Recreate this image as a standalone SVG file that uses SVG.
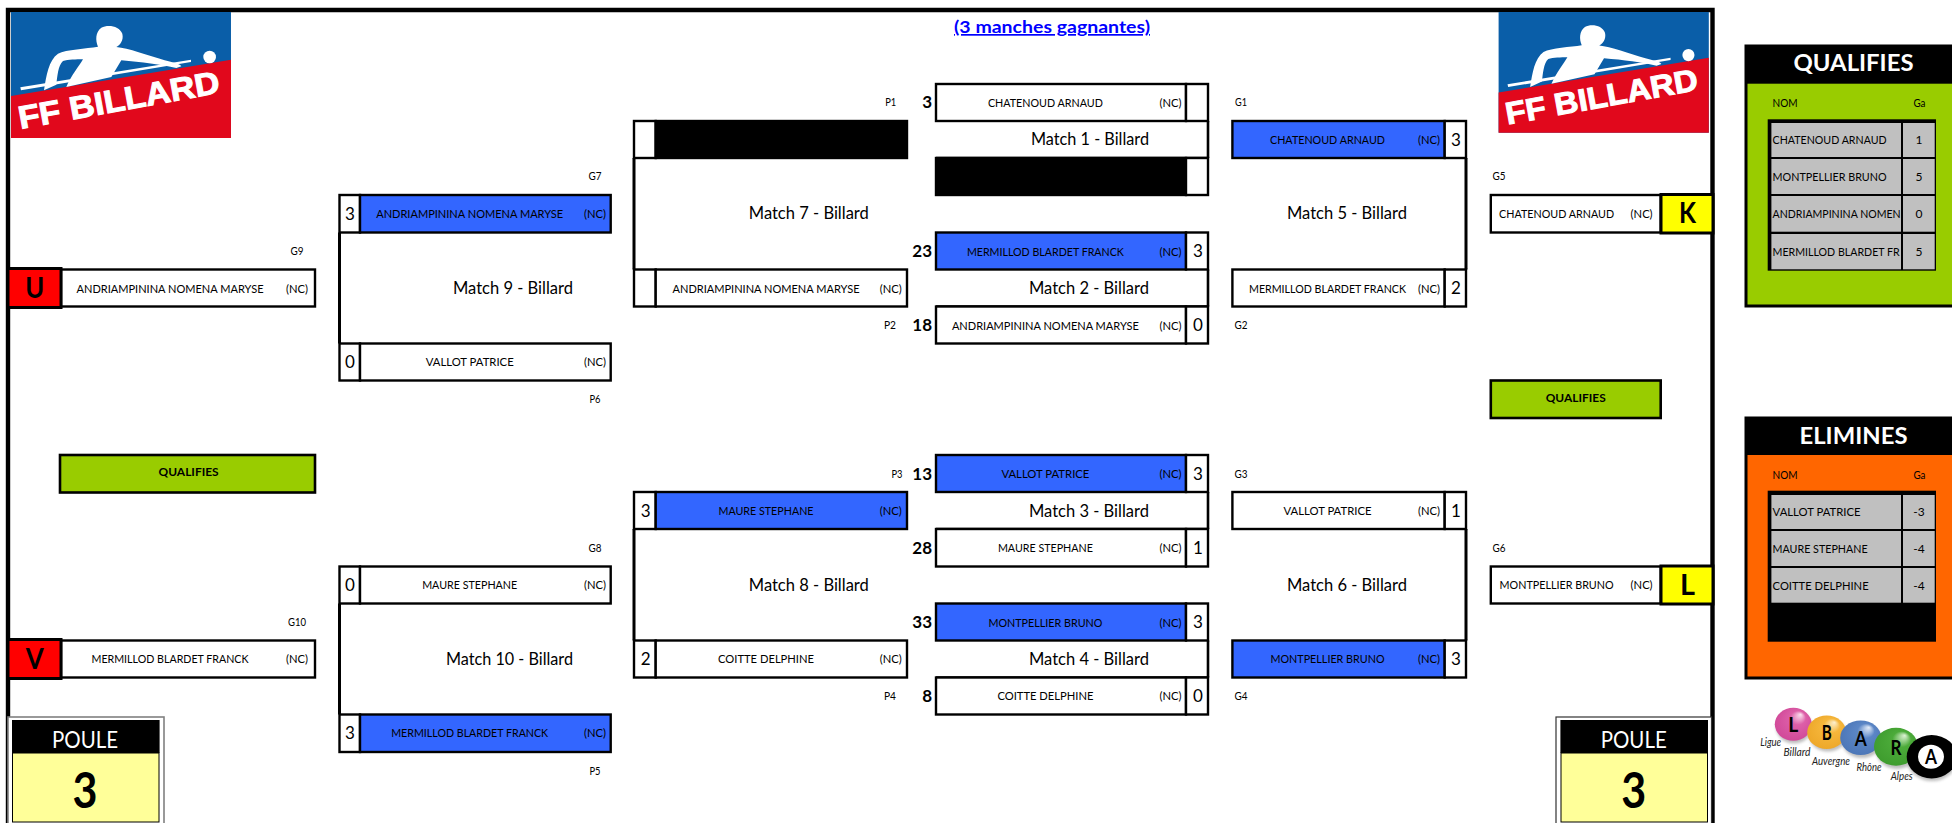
<svg xmlns="http://www.w3.org/2000/svg" width="1952" height="823" viewBox="0 0 1952 823">
<style>
text{font-family:Lato,"Noto Sans",sans-serif;fill:#000}
.c{text-anchor:middle}
.e{text-anchor:end}
.n{font-size:12px}
.s{font-size:17px}
.sb{font-size:17px;font-weight:700;text-anchor:end}
.t{font-size:11.5px;text-anchor:middle}
.m{font-size:17px;text-anchor:end}
.big{font-size:28px;font-weight:700;text-anchor:middle}
.q{font-size:12px;font-weight:700;text-anchor:middle}
.h{font-size:22px;font-weight:700;text-anchor:middle;fill:#fff}
.po{font-size:23px;text-anchor:middle;fill:#fff}
.no{font-size:50px;font-weight:700;text-anchor:middle}
.lb{font-size:10.5px;font-style:italic;text-anchor:middle;fill:#222}
.ba{font-size:21px;font-weight:700;text-anchor:middle}
.lt{fill:#fff;stroke:#fff;stroke-width:1;font-family:"Liberation Sans",sans-serif;font-weight:700}
.w{fill:#fff;stroke:#000;stroke-width:2.4}
.b{fill:#3366ff;stroke:#000;stroke-width:2.4}
.k{fill:#000;stroke:#000;stroke-width:2.4}
.g{fill:#99cc00;stroke:#000;stroke-width:2.6}
.gr{fill:#c0c0c0}
.ln{stroke:#000;stroke-width:2.6;fill:none}
</style>
<defs>
<g id="logo">
<rect width="660" height="378" fill="#0a5ea8"/>
<polygon points="0,252 660,143 660,378 0,378" fill="#e1081c"/>
<polygon points="28,226 540,143 540,150 30,235" fill="#fff"/>
<path d="M99,235C106,190 113,145 141,125C166,112 226,110 261,104C253,85 253,60 271,47C291,36 326,42 334,65C339,85 326,100 316,105C351,108 411,130 461,145C486,152 506,155 511,163L496,168C451,158 391,150 331,145L301,195L166,225C181,190 206,160 216,142C196,142 171,143 156,147C141,160 139,195 136,218Z" fill="#fff"/>
<circle cx="596" cy="135" r="19" fill="#fff"/>
</g>
<radialGradient id="gp" cx=".5" cy=".5" r=".6" fx=".7" fy=".2"><stop offset="0" stop-color="#fbe3f0"/><stop offset=".35" stop-color="#dd5fa8"/><stop offset="1" stop-color="#cf4596"/></radialGradient>
<radialGradient id="go" cx=".5" cy=".5" r=".6" fx=".7" fy=".2"><stop offset="0" stop-color="#fdf0cf"/><stop offset=".35" stop-color="#f6b73c"/><stop offset="1" stop-color="#eca526"/></radialGradient>
<radialGradient id="gb" cx=".5" cy=".5" r=".6" fx=".7" fy=".2"><stop offset="0" stop-color="#e6eefa"/><stop offset=".35" stop-color="#5b86c6"/><stop offset="1" stop-color="#4a74b5"/></radialGradient>
<radialGradient id="gg" cx=".5" cy=".5" r=".6" fx=".7" fy=".2"><stop offset="0" stop-color="#dff3d6"/><stop offset=".35" stop-color="#4cab3a"/><stop offset="1" stop-color="#3c9a2c"/></radialGradient>
<filter id="bl" x="-20%" y="-20%" width="140%" height="140%"><feGaussianBlur stdDeviation="1.5"/></filter>
</defs>
<rect width="1952" height="823" fill="#fff"/>
<g id="frame"><path d="M8 823V10H1712.5V823" fill="none" stroke="#000" stroke-width="4.4"/></g>
<g id="logo-left"><use href="#logo" transform="translate(11 12) scale(.3333)"/><text class="lt" transform="translate(20.5 129) rotate(-10.3)" font-size="32" textLength="204" lengthAdjust="spacingAndGlyphs">FF BILLARD</text></g>
<g id="logo-right"><use href="#logo" transform="translate(1498.6 12) scale(.3185 .3193)"/><text class="lt" transform="translate(1507.5 124.5) rotate(-10.3)" font-size="31" textLength="195" lengthAdjust="spacingAndGlyphs">FF BILLARD</text></g>
<g id="title"><text x="1052" y="33" class="c" font-size="17" font-weight="700" style="fill:#0000ff;text-decoration:underline" textLength="196" lengthAdjust="spacingAndGlyphs">(3 manches gagnantes)</text></g>
<g id="connectors">
<path class="ln" d="M1208 121V158M1208 269.5V306.5M1208 492V529M1208 640.5V677.5"/>
<path class="ln" d="M936 158H1208M936 306.5H1208M936 529H1208M936 677.5H1208"/>
<path class="ln" d="M634 158V269.5M634 529V640.5M1466 158V269.5M1466 529V640.5M339.5 232.5V343.5M339.5 603.5V714.5" style="stroke-width:3"/>
</g>
<g id="m1a"><rect class="w" x="936" y="84" width="250" height="37"/><rect class="w" x="1186" y="84" width="22" height="37"/><text class="n c" x="1045.4" y="107" textLength="115" lengthAdjust="spacingAndGlyphs">CHATENOUD ARNAUD</text><text class="n c" x="1170.6" y="107" textLength="22" lengthAdjust="spacingAndGlyphs">(NC)</text><text class="sb" x="932" y="108">3</text><text class="t" x="890.7" y="106" textLength="11" lengthAdjust="spacingAndGlyphs">P1</text><text class="t" x="1241" y="106" textLength="12" lengthAdjust="spacingAndGlyphs">G1</text></g>
<g id="m1l"><text class="m" x="1149" y="145" textLength="118" lengthAdjust="spacingAndGlyphs">Match 1 - Billard</text></g>
<g id="m1b"><rect class="k" x="936" y="158" width="250" height="37"/><rect class="w" x="1186" y="158" width="22" height="37"/></g>
<g id="m2a"><rect class="b" x="936" y="232.5" width="250" height="37"/><rect class="w" x="1186" y="232.5" width="22" height="37"/><text class="n c" x="1045.4" y="255.5" textLength="157" lengthAdjust="spacingAndGlyphs">MERMILLOD BLARDET FRANCK</text><text class="n c" x="1170.6" y="255.5" textLength="22" lengthAdjust="spacingAndGlyphs">(NC)</text><text class="s c" x="1198" y="257">3</text><text class="sb" x="932" y="257">23</text></g>
<g id="m2l"><text class="m" x="1149" y="294" textLength="120" lengthAdjust="spacingAndGlyphs">Match 2 - Billard</text></g>
<g id="m2b"><rect class="w" x="936" y="306.5" width="250" height="37"/><rect class="w" x="1186" y="306.5" width="22" height="37"/><text class="n c" x="1045.4" y="329.5" textLength="187" lengthAdjust="spacingAndGlyphs">ANDRIAMPININA NOMENA MARYSE</text><text class="n c" x="1170.6" y="329.5" textLength="22" lengthAdjust="spacingAndGlyphs">(NC)</text><text class="s c" x="1198" y="331">0</text><text class="sb" x="932" y="331">18</text><text class="t" x="890" y="329" textLength="12" lengthAdjust="spacingAndGlyphs">P2</text><text class="t" x="1241" y="329" textLength="13" lengthAdjust="spacingAndGlyphs">G2</text></g>
<g id="m3a"><rect class="b" x="936" y="455" width="250" height="37"/><rect class="w" x="1186" y="455" width="22" height="37"/><text class="n c" x="1045.4" y="477.5" textLength="88" lengthAdjust="spacingAndGlyphs">VALLOT PATRICE</text><text class="n c" x="1170.6" y="477.5" textLength="22" lengthAdjust="spacingAndGlyphs">(NC)</text><text class="s c" x="1198" y="479.5">3</text><text class="sb" x="932" y="479.5">13</text><text class="t" x="897" y="478" textLength="11" lengthAdjust="spacingAndGlyphs">P3</text><text class="t" x="1241" y="478" textLength="13" lengthAdjust="spacingAndGlyphs">G3</text></g>
<g id="m3l"><text class="m" x="1149" y="516.5" textLength="120" lengthAdjust="spacingAndGlyphs">Match 3 - Billard</text></g>
<g id="m3b"><rect class="w" x="936" y="529" width="250" height="37.5"/><rect class="w" x="1186" y="529" width="22" height="37.5"/><text class="n c" x="1045.4" y="552" textLength="95" lengthAdjust="spacingAndGlyphs">MAURE STEPHANE</text><text class="n c" x="1170.6" y="552" textLength="22" lengthAdjust="spacingAndGlyphs">(NC)</text><text class="s c" x="1198" y="554">1</text><text class="sb" x="932" y="554">28</text></g>
<g id="m4a"><rect class="b" x="936" y="603.5" width="250" height="37"/><rect class="w" x="1186" y="603.5" width="22" height="37"/><text class="n c" x="1045.4" y="626.5" textLength="114" lengthAdjust="spacingAndGlyphs">MONTPELLIER BRUNO</text><text class="n c" x="1170.6" y="626.5" textLength="22" lengthAdjust="spacingAndGlyphs">(NC)</text><text class="s c" x="1198" y="628">3</text><text class="sb" x="932" y="628">33</text></g>
<g id="m4l"><text class="m" x="1149" y="665" textLength="120" lengthAdjust="spacingAndGlyphs">Match 4 - Billard</text></g>
<g id="m4b"><rect class="w" x="936" y="677.5" width="250" height="37"/><rect class="w" x="1186" y="677.5" width="22" height="37"/><text class="n c" x="1045.4" y="700" textLength="96" lengthAdjust="spacingAndGlyphs">COITTE DELPHINE</text><text class="n c" x="1170.6" y="700" textLength="22" lengthAdjust="spacingAndGlyphs">(NC)</text><text class="s c" x="1198" y="702">0</text><text class="sb" x="932" y="702">8</text><text class="t" x="890" y="700" textLength="12" lengthAdjust="spacingAndGlyphs">P4</text><text class="t" x="1241" y="700" textLength="13" lengthAdjust="spacingAndGlyphs">G4</text></g>
<g id="m7a"><rect class="w" x="634" y="121" width="21.7" height="37"/><rect class="k" x="655.7" y="121" width="251.3" height="37"/></g>
<g id="m7l"><text class="m" x="868.8" y="219" textLength="120" lengthAdjust="spacingAndGlyphs">Match 7 - Billard</text></g>
<g id="m7b"><rect class="w" x="634" y="269.5" width="21.7" height="37"/><rect class="w" x="655.7" y="269.5" width="251.3" height="37"/><text class="n c" x="766" y="292.5" textLength="187" lengthAdjust="spacingAndGlyphs">ANDRIAMPININA NOMENA MARYSE</text><text class="n c" x="890.7" y="292.5" textLength="22" lengthAdjust="spacingAndGlyphs">(NC)</text></g>
<g id="m8a"><rect class="w" x="634" y="492" width="21.7" height="37"/><rect class="b" x="655.7" y="492" width="251.3" height="37"/><text class="n c" x="766" y="514.5" textLength="95" lengthAdjust="spacingAndGlyphs">MAURE STEPHANE</text><text class="n c" x="890.7" y="514.5" textLength="22" lengthAdjust="spacingAndGlyphs">(NC)</text><text class="s c" x="645.7" y="517">3</text></g>
<g id="m8l"><text class="m" x="868.8" y="591" textLength="120" lengthAdjust="spacingAndGlyphs">Match 8 - Billard</text></g>
<g id="m8b"><rect class="w" x="634" y="640.5" width="21.7" height="37"/><rect class="w" x="655.7" y="640.5" width="251.3" height="37"/><text class="n c" x="766" y="663" textLength="96" lengthAdjust="spacingAndGlyphs">COITTE DELPHINE</text><text class="n c" x="890.7" y="663" textLength="22" lengthAdjust="spacingAndGlyphs">(NC)</text><text class="s c" x="645.7" y="665">2</text></g>
<g id="m5a"><rect class="b" x="1232.4" y="121" width="212.3" height="37"/><rect class="w" x="1444.7" y="121" width="21.3" height="37"/><text class="n c" x="1327.5" y="144" textLength="115" lengthAdjust="spacingAndGlyphs">CHATENOUD ARNAUD</text><text class="n c" x="1429" y="144" textLength="22" lengthAdjust="spacingAndGlyphs">(NC)</text><text class="s c" x="1456" y="145.5">3</text></g>
<g id="m5l"><text class="m" x="1407" y="219" textLength="120" lengthAdjust="spacingAndGlyphs">Match 5 - Billard</text></g>
<g id="m5b"><rect class="w" x="1232.4" y="269.5" width="212.3" height="37"/><rect class="w" x="1444.7" y="269.5" width="21.3" height="37"/><text class="n c" x="1327.5" y="292.5" textLength="157" lengthAdjust="spacingAndGlyphs">MERMILLOD BLARDET FRANCK</text><text class="n c" x="1429" y="292.5" textLength="22" lengthAdjust="spacingAndGlyphs">(NC)</text><text class="s c" x="1456" y="294">2</text></g>
<g id="m6a"><rect class="w" x="1232.4" y="492" width="212.3" height="37"/><rect class="w" x="1444.7" y="492" width="21.3" height="37"/><text class="n c" x="1327.5" y="514.5" textLength="88" lengthAdjust="spacingAndGlyphs">VALLOT PATRICE</text><text class="n c" x="1429" y="514.5" textLength="22" lengthAdjust="spacingAndGlyphs">(NC)</text><text class="s c" x="1456" y="517">1</text></g>
<g id="m6l"><text class="m" x="1407" y="591" textLength="120" lengthAdjust="spacingAndGlyphs">Match 6 - Billard</text></g>
<g id="m6b"><rect class="b" x="1232.4" y="640.5" width="212.3" height="37"/><rect class="w" x="1444.7" y="640.5" width="21.3" height="37"/><text class="n c" x="1327.5" y="663" textLength="114" lengthAdjust="spacingAndGlyphs">MONTPELLIER BRUNO</text><text class="n c" x="1429" y="663" textLength="22" lengthAdjust="spacingAndGlyphs">(NC)</text><text class="s c" x="1456" y="665">3</text></g>
<g id="m9a"><rect class="w" x="339.5" y="195" width="20.5" height="37.5"/><rect class="b" x="360" y="195" width="250.7" height="37.5"/><text class="n c" x="469.7" y="218" textLength="187" lengthAdjust="spacingAndGlyphs">ANDRIAMPININA NOMENA MARYSE</text><text class="n c" x="595" y="218" textLength="22" lengthAdjust="spacingAndGlyphs">(NC)</text><text class="s c" x="350" y="219.5">3</text><text class="t" x="595" y="180" textLength="13" lengthAdjust="spacingAndGlyphs">G7</text></g>
<g id="m9l"><text class="m" x="573" y="294" textLength="120" lengthAdjust="spacingAndGlyphs">Match 9 - Billard</text></g>
<g id="m9b"><rect class="w" x="339.5" y="343.5" width="20.5" height="37"/><rect class="w" x="360" y="343.5" width="250.7" height="37"/><text class="n c" x="469.7" y="366" textLength="88" lengthAdjust="spacingAndGlyphs">VALLOT PATRICE</text><text class="n c" x="595" y="366" textLength="22" lengthAdjust="spacingAndGlyphs">(NC)</text><text class="s c" x="350" y="368">0</text><text class="t" x="595" y="403" textLength="11" lengthAdjust="spacingAndGlyphs">P6</text></g>
<g id="m10a"><rect class="w" x="339.5" y="566.5" width="20.5" height="37"/><rect class="w" x="360" y="566.5" width="250.7" height="37"/><text class="n c" x="469.7" y="589" textLength="95" lengthAdjust="spacingAndGlyphs">MAURE STEPHANE</text><text class="n c" x="595" y="589" textLength="22" lengthAdjust="spacingAndGlyphs">(NC)</text><text class="s c" x="350" y="591">0</text><text class="t" x="595" y="552" textLength="13" lengthAdjust="spacingAndGlyphs">G8</text></g>
<g id="m10l"><text class="m" x="573" y="665" textLength="127" lengthAdjust="spacingAndGlyphs">Match 10 - Billard</text></g>
<g id="m10b"><rect class="w" x="339.5" y="714.5" width="20.5" height="37.5"/><rect class="b" x="360" y="714.5" width="250.7" height="37.5"/><text class="n c" x="469.7" y="737" textLength="157" lengthAdjust="spacingAndGlyphs">MERMILLOD BLARDET FRANCK</text><text class="n c" x="595" y="737" textLength="22" lengthAdjust="spacingAndGlyphs">(NC)</text><text class="s c" x="350" y="739">3</text><text class="t" x="595" y="775" textLength="11" lengthAdjust="spacingAndGlyphs">P5</text></g>
<g id="u"><rect x="61" y="269.5" width="254" height="37" class="w"/><rect x="8" y="268.5" width="53" height="39" fill="#ff0000" stroke="#000" stroke-width="3"/><text class="big" x="34.8" y="298" textLength="19" lengthAdjust="spacingAndGlyphs">U</text><text class="n c" x="170" y="292.5" textLength="187" lengthAdjust="spacingAndGlyphs">ANDRIAMPININA NOMENA MARYSE</text><text class="n c" x="297" y="292.5" textLength="22" lengthAdjust="spacingAndGlyphs">(NC)</text><text class="t" x="297" y="255" textLength="13" lengthAdjust="spacingAndGlyphs">G9</text></g>
<g id="v"><rect x="61" y="640.5" width="254" height="37" class="w"/><rect x="8" y="639.5" width="53" height="39" fill="#ff0000" stroke="#000" stroke-width="3"/><text class="big" x="34.8" y="669" textLength="18" lengthAdjust="spacingAndGlyphs">V</text><text class="n c" x="170" y="663" textLength="157" lengthAdjust="spacingAndGlyphs">MERMILLOD BLARDET FRANCK</text><text class="n c" x="297" y="663" textLength="22" lengthAdjust="spacingAndGlyphs">(NC)</text><text class="t" x="297" y="626" textLength="18" lengthAdjust="spacingAndGlyphs">G10</text></g>
<g id="k"><rect x="1490.8" y="195" width="169.9" height="37.5" class="w"/><rect x="1661" y="194.5" width="52" height="38.5" fill="#ffff00" stroke="#000" stroke-width="3"/><text class="big" x="1687.6" y="223" textLength="17" lengthAdjust="spacingAndGlyphs">K</text><text class="n c" x="1556.6" y="218" textLength="115" lengthAdjust="spacingAndGlyphs">CHATENOUD ARNAUD</text><text class="n c" x="1641.6" y="218" textLength="22" lengthAdjust="spacingAndGlyphs">(NC)</text><text class="t" x="1499" y="180" textLength="13" lengthAdjust="spacingAndGlyphs">G5</text></g>
<g id="l"><rect x="1490.8" y="566.5" width="169.9" height="37" class="w"/><rect x="1661" y="566" width="52" height="38" fill="#ffff00" stroke="#000" stroke-width="3"/><text class="big" x="1687.6" y="595" textLength="15" lengthAdjust="spacingAndGlyphs">L</text><text class="n c" x="1556.6" y="589" textLength="114" lengthAdjust="spacingAndGlyphs">MONTPELLIER BRUNO</text><text class="n c" x="1641.6" y="589" textLength="22" lengthAdjust="spacingAndGlyphs">(NC)</text><text class="t" x="1499" y="552" textLength="13" lengthAdjust="spacingAndGlyphs">G6</text></g>
<g id="q-left"><rect class="g" x="60" y="455" width="255" height="37.5"/><text class="q" x="188.6" y="476" textLength="60" lengthAdjust="spacingAndGlyphs">QUALIFIES</text></g>
<g id="q-right"><rect class="g" x="1490.8" y="380.5" width="169.9" height="37.5"/><text class="q" x="1575.7" y="401.5" textLength="60" lengthAdjust="spacingAndGlyphs">QUALIFIES</text></g>
<g id="poule-left"><rect x="8" y="717" width="156" height="110" fill="#fff" stroke="#808080" stroke-width="1.6"/><rect x="12" y="720" width="147.6" height="33" fill="#000"/><rect x="12.5" y="753" width="146.5" height="69" fill="#ffff99" stroke="#000" stroke-width="1"/><text class="po" x="85" y="748" textLength="66" lengthAdjust="spacingAndGlyphs">POULE</text><text class="no" x="85" y="808" textLength="25" lengthAdjust="spacingAndGlyphs">3</text></g>
<g id="poule-right"><rect x="1556" y="717" width="155.5" height="110" fill="#fff" stroke="#333" stroke-width="1.2"/><rect x="1560.4" y="720" width="147.6" height="33" fill="#000"/><rect x="1561" y="753" width="146.5" height="69" fill="#ffff99" stroke="#000" stroke-width="1"/><text class="po" x="1633.7" y="748" textLength="66" lengthAdjust="spacingAndGlyphs">POULE</text><text class="no" x="1633.7" y="808" textLength="25" lengthAdjust="spacingAndGlyphs">3</text></g>
<g id="panel-qualifies">
<rect x="1746" y="46" width="210" height="260" fill="#99cc00" stroke="#000" stroke-width="3"/>
<rect x="1745" y="45" width="207" height="38.7" fill="#000"/>
<text class="h" x="1853.5" y="71" textLength="120" lengthAdjust="spacingAndGlyphs">QUALIFIES</text>
<text class="n" x="1772.6" y="106.5" textLength="25" lengthAdjust="spacingAndGlyphs">NOM</text><text class="n c" x="1919.4" y="106.5" textLength="12" lengthAdjust="spacingAndGlyphs">Ga</text>
<rect x="1767.7" y="119.3" width="168.3" height="151.4" fill="#000"/>
<rect class="gr" x="1771.4" y="123" width="129.6" height="34"/><rect class="gr" x="1903" y="123" width="31.7" height="34"/>
<rect class="gr" x="1771.4" y="159" width="129.6" height="35"/><rect class="gr" x="1903" y="159" width="31.7" height="35"/>
<rect class="gr" x="1771.4" y="196" width="129.6" height="35.7"/><rect class="gr" x="1903" y="196" width="31.7" height="35.7"/>
<rect class="gr" x="1771.4" y="234" width="129.6" height="35.3"/><rect class="gr" x="1903" y="234" width="31.7" height="35.3"/>
<text class="n" x="1772.6" y="144" textLength="114" lengthAdjust="spacingAndGlyphs">CHATENOUD ARNAUD</text><text class="n c" x="1919" y="144">1</text>
<text class="n" x="1772.6" y="180.5" textLength="114" lengthAdjust="spacingAndGlyphs">MONTPELLIER BRUNO</text><text class="n c" x="1919" y="180.5">5</text>
<text class="n" x="1772.6" y="218" textLength="128" lengthAdjust="spacingAndGlyphs">ANDRIAMPININA NOMEN</text><text class="n c" x="1919" y="218">0</text>
<text class="n" x="1772.6" y="255.5" textLength="127" lengthAdjust="spacingAndGlyphs">MERMILLOD BLARDET FR</text><text class="n c" x="1919" y="255.5">5</text>
</g>
<g id="panel-elimines">
<rect x="1746" y="418" width="210" height="260" fill="#ff6600" stroke="#000" stroke-width="3"/>
<rect x="1745" y="417.3" width="207" height="37.7" fill="#000"/>
<text class="h" x="1853.5" y="443.5" textLength="108" lengthAdjust="spacingAndGlyphs">ELIMINES</text>
<text class="n" x="1772.6" y="478.5" textLength="25" lengthAdjust="spacingAndGlyphs">NOM</text><text class="n c" x="1919.4" y="478.5" textLength="12" lengthAdjust="spacingAndGlyphs">Ga</text>
<rect x="1767.7" y="490.7" width="168.3" height="151" fill="#000"/>
<rect class="gr" x="1771.4" y="495" width="129.6" height="34"/><rect class="gr" x="1903" y="495" width="31.7" height="34"/>
<rect class="gr" x="1771.4" y="531" width="129.6" height="35"/><rect class="gr" x="1903" y="531" width="31.7" height="35"/>
<rect class="gr" x="1771.4" y="568" width="129.6" height="34.7"/><rect class="gr" x="1903" y="568" width="31.7" height="34.7"/>
<text class="n" x="1772.6" y="515.5" textLength="88" lengthAdjust="spacingAndGlyphs">VALLOT PATRICE</text><text class="n c" x="1919" y="515.5">-3</text>
<text class="n" x="1772.6" y="552.5" textLength="95" lengthAdjust="spacingAndGlyphs">MAURE STEPHANE</text><text class="n c" x="1919" y="552.5">-4</text>
<text class="n" x="1772.6" y="589.5" textLength="96" lengthAdjust="spacingAndGlyphs">COITTE DELPHINE</text><text class="n c" x="1919" y="589.5">-4</text>
</g>
<g id="lbara">
<g fill="#888" opacity=".55" filter="url(#bl)"><ellipse cx="1794" cy="727" rx="18" ry="16.5"/><ellipse cx="1828" cy="735" rx="19" ry="16.5"/><ellipse cx="1862" cy="741" rx="20" ry="17"/><ellipse cx="1897" cy="750" rx="21" ry="19"/><ellipse cx="1932" cy="760" rx="25" ry="21"/></g>
<ellipse cx="1793.3" cy="724.3" rx="18.5" ry="16.5" fill="url(#gp)"/>
<ellipse cx="1826.7" cy="732.3" rx="19.5" ry="16.7" fill="url(#go)"/>
<ellipse cx="1860.7" cy="737.7" rx="20.5" ry="17.3" fill="url(#gb)"/>
<ellipse cx="1896" cy="746.7" rx="22" ry="19" fill="url(#gg)"/>
<ellipse cx="1931.7" cy="756.7" rx="25" ry="21.7" fill="#000"/>
<ellipse cx="1931" cy="756.7" rx="13" ry="12" fill="#fff"/>
<text class="ba" x="1793.3" y="732" textLength="10" lengthAdjust="spacingAndGlyphs">L</text><text class="ba" x="1826.7" y="740" textLength="10" lengthAdjust="spacingAndGlyphs">B</text><text class="ba" x="1860.7" y="745.5" textLength="12" lengthAdjust="spacingAndGlyphs">A</text><text class="ba" x="1896" y="754.5" textLength="11" lengthAdjust="spacingAndGlyphs">R</text><text class="ba" x="1931" y="763.5" textLength="12" lengthAdjust="spacingAndGlyphs">A</text>
<text class="lb" x="1770.7" y="746" textLength="21" lengthAdjust="spacingAndGlyphs">Ligue</text>
<text class="lb" x="1797" y="755.5" textLength="27" lengthAdjust="spacingAndGlyphs">Billard</text>
<text class="lb" x="1831" y="764.5" textLength="38" lengthAdjust="spacingAndGlyphs">Auvergne</text>
<text class="lb" x="1869" y="771" textLength="25" lengthAdjust="spacingAndGlyphs">Rhône</text>
<text class="lb" x="1901.7" y="780" textLength="22" lengthAdjust="spacingAndGlyphs">Alpes</text>
</g>
</svg>
